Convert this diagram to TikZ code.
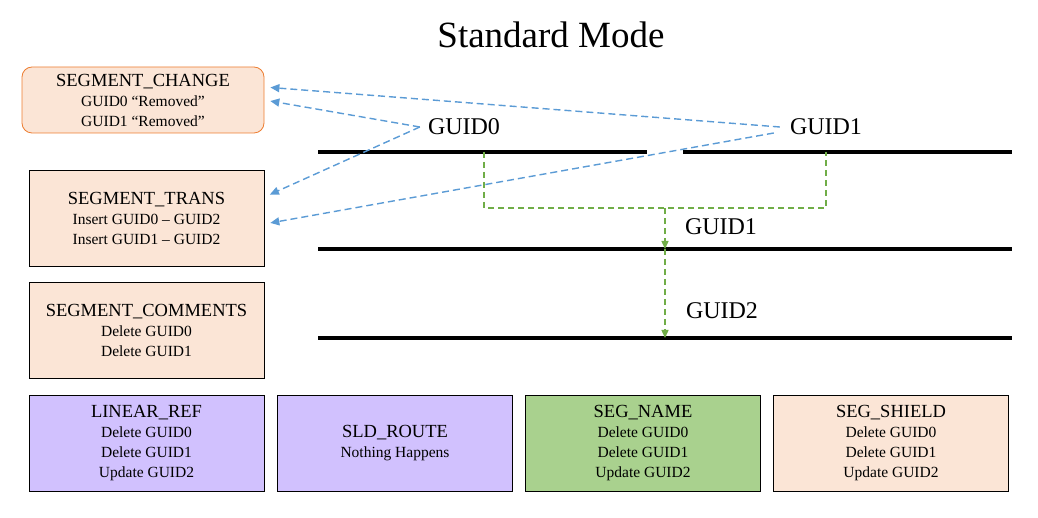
\documentclass[tikz,border=0pt]{standalone}
\usepackage{fontspec}
\setmainfont{Liberation Serif}
\usetikzlibrary{arrows.meta}
\definecolor{peach}{HTML}{FBE5D6}
\definecolor{lilac}{HTML}{D1C1FE}
\definecolor{leaf}{HTML}{A9D18E}
\definecolor{rimorange}{HTML}{ED7D31}
\definecolor{linkblue}{HTML}{5B9BD5}
\definecolor{linkgreen}{HTML}{70AD47}
\newcommand{\hd}[1]{{\fontsize{18.5}{20}\selectfont #1}}
\begin{document}
\begin{tikzpicture}[x=1pt,y=-1pt,
  tablebox/.style={draw=black,line width=0.8pt,fill=peach,align=center,
    minimum width=235pt,minimum height=96pt,inner sep=0pt,
    font=\fontsize{15.5}{20}\selectfont},
  guidlabel/.style={font=\fontsize{24}{26}\selectfont,inner sep=8pt},
  segline/.style={line width=3.5pt,black},
  bluelink/.style={linkblue,line width=1.4pt,dash pattern=on 7pt off 4pt,
    -{Triangle[length=9pt,width=8pt]},shorten >=6pt},
  greenlink/.style={linkgreen,line width=1.4pt,dash pattern=on 6pt off 4pt}]
\useasboundingbox (0,0) rectangle (1038,518);
\node[font=\fontsize{37}{40}\selectfont] (title) at (551,35) {Standard Mode};
% tables
\node[tablebox,draw=rimorange,rounded corners=10pt,minimum width=242pt,minimum height=66pt] (change) at (143,100)
  {\hd{SEGMENT\_CHANGE}\\GUID0 ``Removed''\\GUID1 ``Removed''};
\node[tablebox] (trans) at (146.5,218)
  {\hd{SEGMENT\_TRANS}\\Insert GUID0 -- GUID2\\Insert GUID1 -- GUID2};
\node[tablebox] (comments) at (146.5,330)
  {\hd{SEGMENT\_COMMENTS}\\Delete GUID0\\Delete GUID1};
\node[tablebox,fill=lilac] (linref) at (146.5,443)
  {\hd{LINEAR\_REF}\\Delete GUID0\\Delete GUID1\\Update GUID2};
\node[tablebox,fill=lilac] (sldroute) at (395,443)
  {\hd{SLD\_ROUTE}\\Nothing Happens};
\node[tablebox,fill=leaf] (segname) at (643,443)
  {\hd{SEG\_NAME}\\Delete GUID0\\Delete GUID1\\Update GUID2};
\node[tablebox] (segshield) at (891,443)
  {\hd{SEG\_SHIELD}\\Delete GUID0\\Delete GUID1\\Update GUID2};
% segments
\coordinate (s0a) at (318,152);
\coordinate (s0b) at (647,152);
\coordinate (s1a) at (683,152);
\coordinate (s1b) at (1012,152);
\coordinate (s2a) at (318,249);
\coordinate (s2b) at (1012,249);
\coordinate (s3a) at (318,338);
\coordinate (s3b) at (1012,338);
\draw[segline] (s0a) -- (s0b);
\draw[segline] (s1a) -- (s1b);
\draw[segline] (s2a) -- (s2b);
\draw[segline] (s3a) -- (s3b);
\node[guidlabel] (guid0) at (464,127) {GUID0};
\node[guidlabel] (guid1) at (826,127) {GUID1};
\node[guidlabel] (guid1m) at (721,227) {GUID1};
\node[guidlabel] (guid2) at (722,311) {GUID2};
% merge
\coordinate (m0) at (484,152);
\coordinate (m1) at (826,152);
\coordinate (mj) at (665,208);
\coordinate (mt2) at (665,249);
\coordinate (mt3) at (665,338);
\draw[greenlink] (m0) |- (mj) -| (m1);
\draw[greenlink,-{Triangle[length=8pt,width=7pt]}] (mj) -- (mt2);
\draw[greenlink,-{Triangle[length=8pt,width=7pt]}] (mt2) -- (mt3);
% links to tables
\draw[bluelink] ([xshift=-2pt]guid1.west) -- ([yshift=13pt]change.east);
\draw[bluelink] (guid0.west) -- ([yshift=0pt]change.east);
\draw[bluelink] (guid0.west) -- ([yshift=21pt]trans.east);
\draw[bluelink] ([xshift=-8pt,yshift=-6pt]guid1.west) -- ([yshift=-6pt]trans.east);
\end{tikzpicture}
\end{document}
